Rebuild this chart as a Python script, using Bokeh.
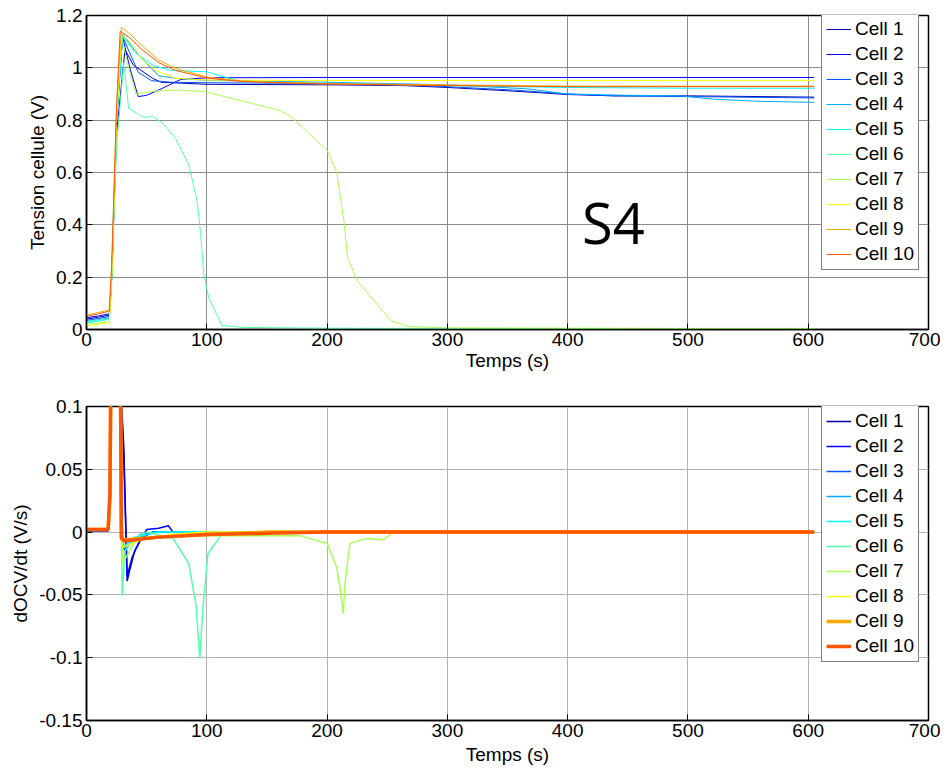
from bokeh.plotting import figure
from bokeh.layouts import column
from bokeh.models import Range1d, FixedTicker, Legend, LegendItem
from bokeh.core.properties import value
from bokeh.embed import file_html
from bokeh.resources import INLINE

cells = ["Cell 1", "Cell 2", "Cell 3", "Cell 4", "Cell 5",
         "Cell 6", "Cell 7", "Cell 8", "Cell 9", "Cell 10"]
colors = ["#0000aa", "#0000ff", "#0055ff", "#00aaff", "#00ffff",
          "#55ffaa", "#aaff55", "#ffff00", "#ffaa00", "#ff5500"]

x_ticks = [0, 100, 200, 300, 400, 500, 600, 700]
y1_ticks = [0, 0.2, 0.4, 0.6, 0.8, 1.0, 1.2]
y1_labels = {0: "0", 0.2: "0.2", 0.4: "0.4", 0.6: "0.6", 0.8: "0.8", 1.0: "1", 1.2: "1.2"}
y2_ticks = [-0.15, -0.1, -0.05, 0, 0.05, 0.1]
y2_labels = {-0.15: "-0.15", -0.1: "-0.1", -0.05: "-0.05", 0: "0", 0.05: "0.05", 0.1: "0.1"}

# ---- Tension cellule (V) vs Temps (s) ----
t1_c1 = [0, 10, 19, 21, 25, 32, 39, 55, 62, 100, 200, 264, 300, 355, 400, 438, 500, 605]
v1_c1 = [0.04, 0.047, 0.055, 0.2, 0.75, 1.07, 1.01, 0.96, 0.945, 0.937, 0.935, 0.932, 0.925, 0.911, 0.898, 0.893, 0.893, 0.888]
t1_c2 = [0, 10, 19, 21, 25, 30, 36, 43, 50, 60, 78, 100, 200, 300, 400, 500, 605]
v1_c2 = [0.045, 0.052, 0.06, 0.2, 0.8, 1.12, 1.0, 0.89, 0.895, 0.915, 0.955, 0.962, 0.963, 0.963, 0.963, 0.963, 0.963]
t1_c3 = [0, 10, 19, 21, 25, 30, 43, 54, 70, 100, 200, 264, 300, 355, 400, 438, 500, 605]
v1_c3 = [0.035, 0.042, 0.05, 0.2, 0.8, 1.12, 0.983, 0.951, 0.945, 0.943, 0.94, 0.935, 0.928, 0.915, 0.9, 0.893, 0.89, 0.885]
t1_c4 = [0, 10, 19, 21, 25, 30, 38, 46, 60, 74, 100, 200, 250, 300, 366, 400, 450, 494, 521, 560, 605]
v1_c4 = [0.03, 0.037, 0.045, 0.2, 0.8, 1.13, 1.08, 1.035, 0.97, 0.96, 0.952, 0.945, 0.94, 0.935, 0.92, 0.90, 0.895, 0.893, 0.88, 0.872, 0.868]
t1_c5 = [0, 10, 19, 21, 25, 30, 40, 55, 70, 100, 111, 125, 150, 200, 300, 400, 500, 605]
v1_c5 = [0.025, 0.032, 0.04, 0.2, 0.8, 1.12, 1.06, 1.01, 0.99, 0.985, 0.97, 0.952, 0.945, 0.94, 0.932, 0.925, 0.922, 0.922]
t1_c6 = [0, 10, 19, 21, 25, 31, 35, 47.7, 54.6, 62.9, 74, 85, 92, 94.8, 97.5, 101.7, 112.8, 130, 200, 300, 400, 500, 605]
v1_c6 = [0.03, 0.035, 0.04, 0.2, 0.7, 1.02, 0.845, 0.81, 0.815, 0.79, 0.73, 0.63, 0.49, 0.37, 0.21, 0.12, 0.015, 0.008, 0.005, 0.004, 0.004, 0.004, 0.004]
t1_c7 = [0, 10, 19, 21, 25, 29, 35, 41, 55, 75, 95, 100, 161, 172, 200, 208, 214, 217, 225, 239, 253, 267, 300, 400, 500, 605]
v1_c7 = [0.02, 0.025, 0.03, 0.2, 0.8, 1.12, 1.0, 0.90, 0.91, 0.915, 0.91, 0.907, 0.837, 0.806, 0.684, 0.60, 0.416, 0.275, 0.187, 0.11, 0.034, 0.012, 0.006, 0.005, 0.004, 0.004]
t1_c8 = [0, 10, 19, 21, 25, 29, 36, 46, 57, 74, 100, 200, 300, 400, 500, 605]
v1_c8 = [0.015, 0.02, 0.025, 0.2, 0.8, 1.13, 1.1, 1.035, 0.99, 0.96, 0.953, 0.952, 0.952, 0.952, 0.952, 0.952]
t1_c9 = [0, 10, 19, 21, 25, 29, 36, 46, 60, 74, 101, 129, 157, 200, 300, 400, 500, 605]
v1_c9 = [0.055, 0.065, 0.075, 0.25, 0.85, 1.155, 1.13, 1.085, 1.03, 0.998, 0.964, 0.95, 0.945, 0.94, 0.935, 0.93, 0.93, 0.93]
t1_c10 = [0, 10, 19, 21, 25, 28, 36, 46, 60, 74, 101, 129, 157, 200, 300, 400, 500, 605]
v1_c10 = [0.05, 0.06, 0.07, 0.25, 0.85, 1.14, 1.115, 1.07, 1.02, 0.99, 0.96, 0.948, 0.943, 0.938, 0.932, 0.928, 0.928, 0.928]

# ---- dOCV/dt (V/s) vs Temps (s) ----
t2_c1 = [0, 18, 19.5, 21, 26, 31, 33.8, 38, 45, 55, 100, 605]
d2_c1 = [0.001, 0.001, 0.03, 0.16, 0.16, 0.068, -0.035, -0.02, -0.005, 0, 0, 0]
t2_c2 = [0, 18, 19.5, 21, 26, 31, 33.8, 36, 40, 50, 60, 68, 72, 100, 605]
d2_c2 = [0.001, 0.001, 0.03, 0.16, 0.16, 0.06, -0.039, -0.03, -0.015, 0.002, 0.003, 0.005, 0.0, 0, 0]
t2_c3 = [0, 18, 19.5, 21, 27, 30, 32, 36, 45, 60, 605]
d2_c3 = [0.001, 0.001, 0.03, 0.16, 0.16, -0.01, -0.015, -0.01, -0.002, 0, 0]
t2_c4 = [0, 18, 19.5, 21, 27, 30, 33, 40, 55, 605]
d2_c4 = [0.002, 0.002, 0.03, 0.16, 0.16, -0.01, -0.012, -0.006, 0, 0]
t2_c5 = [0, 18, 19.5, 21, 27, 30, 33, 40, 60, 605]
d2_c5 = [0.002, 0.002, 0.03, 0.16, 0.16, -0.012, -0.01, -0.004, 0, 0]
t2_c6 = [0, 18, 19.5, 21, 27, 29.7, 32, 40, 50, 72, 85, 91, 94.2, 97, 101, 110, 113, 605]
d2_c6 = [0.002, 0.002, 0.03, 0.16, 0.16, -0.0505, -0.015, -0.005, 0.0, -0.005, -0.025, -0.058, -0.1, -0.058, -0.017, -0.005, 0, 0]
t2_c7 = [0, 18, 19.5, 21, 27, 30, 33, 40, 60, 100, 150, 178, 200, 208, 211, 213.4, 215, 219, 233, 247, 255, 605]
d2_c7 = [0.002, 0.002, 0.03, 0.16, 0.16, -0.025, -0.02, -0.008, -0.003, -0.003, -0.003, -0.003, -0.009, -0.028, -0.046, -0.065, -0.040, -0.009, -0.005, -0.006, 0, 0]
t2_c8 = [0, 18, 19.5, 20.5, 28, 29.5, 31, 45, 70, 100, 605]
d2_c8 = [0.002, 0.002, 0.03, 0.16, 0.16, -0.01, -0.012, -0.006, -0.002, 0, 0]
t2_c9 = [0, 18, 19.5, 20.5, 28, 29, 31, 60, 100, 150, 200, 605]
d2_c9 = [0.002, 0.002, 0.03, 0.16, 0.16, -0.004, -0.006, -0.004, -0.002, 0, 0, 0]
t2_c10 = [0, 18, 19.5, 20.5, 28, 29, 31, 60, 100, 150, 200, 605]
d2_c10 = [0.002, 0.002, 0.03, 0.16, 0.16, -0.005, -0.007, -0.004, -0.002, -0.001, 0, 0]

top_t = [t1_c1, t1_c2, t1_c3, t1_c4, t1_c5, t1_c6, t1_c7, t1_c8, t1_c9, t1_c10]
top_v = [v1_c1, v1_c2, v1_c3, v1_c4, v1_c5, v1_c6, v1_c7, v1_c8, v1_c9, v1_c10]
bot_t = [t2_c1, t2_c2, t2_c3, t2_c4, t2_c5, t2_c6, t2_c7, t2_c8, t2_c9, t2_c10]
bot_d = [d2_c1, d2_c2, d2_c3, d2_c4, d2_c5, d2_c6, d2_c7, d2_c8, d2_c9, d2_c10]

FONT = "Liberation Sans"
FS = "19px"


def style(p, yticks, ylabels, ylabel, grid_color, xlabel_standoff):
    p.xaxis.ticker = FixedTicker(ticks=x_ticks)
    p.yaxis.ticker = FixedTicker(ticks=yticks)
    p.yaxis.major_label_overrides = ylabels
    p.xaxis.axis_label = "Temps (s)"
    p.yaxis.axis_label = ylabel
    for ax in (p.xaxis[0], p.yaxis[0]):
        ax.axis_label_text_font = FONT
        ax.axis_label_text_font_style = "normal"
        ax.axis_label_text_font_size = FS
        ax.major_label_text_font = FONT
        ax.major_label_text_font_size = FS
        ax.major_label_text_color = "black"
        ax.axis_label_text_color = "black"
        ax.major_tick_in = 6
        ax.major_tick_out = 0
        ax.minor_tick_in = 0
        ax.minor_tick_out = 0
        ax.axis_line_width = 1.5
        ax.axis_line_color = "black"
        ax.major_tick_line_color = "black"
    p.xaxis.axis_label_standoff = xlabel_standoff
    p.xaxis.major_label_standoff = 3
    p.yaxis.axis_label_standoff = 5
    p.yaxis.major_label_standoff = 4
    p.grid.grid_line_color = grid_color
    p.grid.grid_line_width = 1
    p.outline_line_color = "black"
    p.outline_line_width = 1.5
    p.background_fill_color = "white"
    p.border_fill_color = "white"


p1 = figure(width=940, height=388, output_backend="svg", toolbar_location=None,
            x_range=Range1d(0, 700), y_range=Range1d(0, 1.2),
            min_border_left=86, min_border_right=12, min_border_top=15, min_border_bottom=59)
style(p1, y1_ticks, y1_labels, "Tension cellule (V)", "#8c8c8c", 1)
items1 = []
for name, col, tt, vv in zip(cells, colors, top_t, top_v):
    r = p1.line(tt, vv, line_color=col, line_width=1)
    items1.append(LegendItem(label=name, renderers=[r]))
p1.text(x=[438], y=[0.41], text=["S4"], text_font=value("Open Sans"),
        text_font_size="56px", text_align="center", text_baseline="middle", text_color="black")
leg1 = Legend(items=items1, location=(735, 59))
p1.add_layout(leg1)

p2 = figure(width=940, height=381, output_backend="svg", toolbar_location=None,
            x_range=Range1d(0, 700), y_range=Range1d(-0.15, 0.1),
            min_border_left=86, min_border_right=12, min_border_top=18, min_border_bottom=49)
style(p2, y2_ticks, y2_labels, "dOCV/dt (V/s)", "#b4b4b4", 4)
items2 = []
for i, (name, col, tt, dd) in enumerate(zip(cells, colors, bot_t, bot_d)):
    lw = 3.5 if i >= 8 else 1.5
    r = p2.line(tt, dd, line_color=col, line_width=lw)
    items2.append(LegendItem(label=name, renderers=[r]))
leg2 = Legend(items=items2, location=(735, 58))
p2.add_layout(leg2)

for lg in (leg1, leg2):
    lg.label_text_font = FONT
    lg.label_text_font_size = FS
    lg.label_text_color = "black"
    lg.label_height = 20
    lg.glyph_height = 20
    lg.glyph_width = 25
    lg.label_standoff = 4
    lg.spacing = 3
    lg.padding = 4
    lg.margin = 0
    lg.border_line_color = "black"
    lg.border_line_width = 1
    lg.background_fill_alpha = 1.0

layout = column(p1, p2)
open("out.html", "w").write(file_html(layout, INLINE))
